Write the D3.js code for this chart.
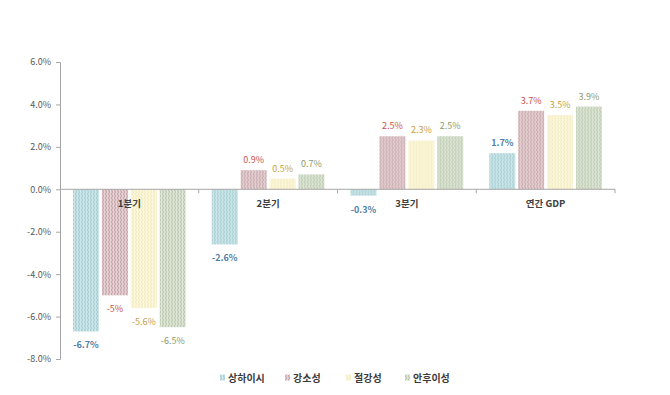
<!DOCTYPE html>
<html>
<head>
<meta charset="utf-8">
<script src="https://cdn.jsdelivr.net/npm/d3@7"></script>
<style>
  body { margin: 0; background: #fff; }
  svg text { font-family: "Noto Sans CJK KR", "Noto Sans", sans-serif; }
</style>
</head>
<body>
<svg id="chart" width="670" height="395"></svg>
<script>
// chart data
var categories = ["1분기", "2분기", "3분기", "연간 GDP"];
var regions = ["상하이시", "강소성", "절강성", "안후이성"];
var shanghai = [-6.7, -2.6, -0.3, 1.7];
var jiangsu = [-5, 0.9, 2.5, 3.7];
var zhejiang = [-5.6, 0.5, 2.3, 3.5];
var anhui = [-6.5, 0.7, 2.5, 3.9];
var valueLabels = [
  ["-6.7%", "-2.6%", "-0.3%", "1.7%"],
  ["-5%", "0.9%", "2.5%", "3.7%"],
  ["-5.6%", "0.5%", "2.3%", "3.5%"],
  ["-6.5%", "0.7%", "2.5%", "3.9%"]
];
var yTicks = [6, 4, 2, 0, -2, -4, -6, -8];

var series = [shanghai, jiangsu, zhejiang, anhui];

var fills = [
  { bg: "#cde7e9", fg: "#96c3ca", text: "#4f7fa6" },
  { bg: "#e6d2d4", fg: "#b9959a", text: "#c9504f" },
  { bg: "#fcf8e0", fg: "#efe4ad", text: "#c6a03e" },
  { bg: "#dfe6d7", fg: "#aebd9f", text: "#8b9a6d" }
];

var svg = d3.select("#chart");

var x0 = d3.scaleBand()
    .domain(categories)
    .range([60, 615])
    .paddingInner(0)
    .paddingOuter(0);

var x1 = d3.scaleBand()
    .domain(d3.range(4))
    .range([13, x0.bandwidth() - 13])
    .paddingInner(0.1);

var y = d3.scaleLinear()
    .domain([-8, 6])
    .range([359, 62]);

// zigzag patterns
var defs = svg.append("defs");
fills.forEach(function (f, i) {
  var p = defs.append("pattern")
      .attr("id", "pat" + i)
      .attr("patternUnits", "userSpaceOnUse")
      .attr("width", 3)
      .attr("height", 4);
  p.append("rect").attr("width", 3).attr("height", 4).attr("fill", f.bg);
  p.append("path")
      .attr("d", "M1.5,0 L0.5,2 L1.5,4")
      .attr("fill", "none")
      .attr("stroke", f.fg)
      .attr("stroke-width", 0.9);
});

// y axis
var yAxis = d3.axisLeft(y)
    .tickValues(yTicks)
    .tickSize(4)
    .tickFormat(function (d) { return d.toFixed(1) + "%"; });

var gy = svg.append("g")
    .attr("transform", "translate(60,0)")
    .call(yAxis);
gy.select(".domain").attr("stroke", "#a6a6a6");
gy.selectAll(".tick line").attr("stroke", "#a6a6a6");
gy.selectAll(".tick text")
    .attr("fill", "#595959")
    .attr("font-size", 9)
    .attr("x", -9);

// bars
var groups = svg.append("g").selectAll("g")
    .data(categories)
    .join("g")
    .attr("transform", function (d) { return "translate(" + x0(d) + ",0)"; });

groups.selectAll("rect")
    .data(function (d, ci) { return series.map(function (s, si) { return { si: si, ci: ci, v: s[ci] }; }); })
    .join("rect")
    .attr("x", function (d) { return x1(d.si); })
    .attr("width", x1.bandwidth())
    .attr("y", function (d) { return y(Math.max(0, d.v)); })
    .attr("height", function (d) { return Math.abs(y(d.v) - y(0)); })
    .attr("fill", function (d) { return "url(#pat" + d.si + ")"; });

// zero line with category ticks
svg.append("line")
    .attr("x1", 60).attr("x2", 615)
    .attr("y1", y(0)).attr("y2", y(0))
    .attr("stroke", "#a6a6a6");

svg.append("g").selectAll("line")
    .data(categories)
    .join("line")
    .attr("x1", function (d) { return x0(d) + x0.bandwidth(); })
    .attr("x2", function (d) { return x0(d) + x0.bandwidth(); })
    .attr("y1", y(0)).attr("y2", y(0) + 4)
    .attr("stroke", "#a6a6a6");

// value labels
groups.selectAll("text.val")
    .data(function (d, ci) { return series.map(function (s, si) { return { si: si, ci: ci, v: s[ci] }; }); })
    .join("text")
    .attr("class", "val")
    .attr("x", function (d) { return x1(d.si) + x1.bandwidth() / 2; })
    .attr("y", function (d) { return d.v >= 0 ? y(d.v) - 7 : y(d.v) + 17; })
    .attr("text-anchor", "middle")
    .attr("font-size", 9)
    .attr("font-weight", function (d) { return d.si === 0 ? "bold" : "normal"; })
    .attr("fill", function (d) { return fills[d.si].text; })
    .text(function (d) { return valueLabels[d.si][d.ci]; });

// category labels
svg.append("g").selectAll("text")
    .data(categories)
    .join("text")
    .attr("x", function (d) { return x0(d) + x0.bandwidth() / 2; })
    .attr("y", y(0) + 18)
    .attr("text-anchor", "middle")
    .attr("font-size", 9.5)
    .attr("font-weight", "bold")
    .attr("fill", "#404040")
    .text(function (d) { return d; });

// legend
var legendX = [220, 285, 346, 405];
var legend = svg.append("g").selectAll("g")
    .data(regions)
    .join("g")
    .attr("transform", function (d, i) { return "translate(" + legendX[i] + ",378)"; });

legend.append("rect")
    .attr("x", 0).attr("y", -3.5)
    .attr("width", 5).attr("height", 6)
    .attr("fill", function (d, i) { return "url(#pat" + i + ")"; });

legend.append("text")
    .attr("x", 8)
    .attr("y", 3.5)
    .attr("font-size", 10)
    .attr("font-weight", "bold")
    .attr("fill", "#3a3a3a")
    .text(function (d) { return d; });
</script>
</body>
</html>
